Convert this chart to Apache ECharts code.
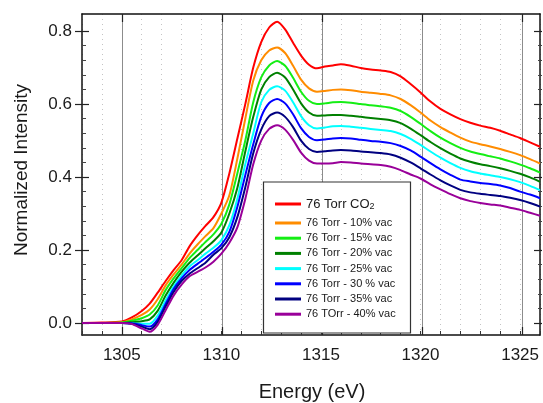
<!DOCTYPE html>
<html><head><meta charset="utf-8">
<script src="https://cdn.jsdelivr.net/npm/echarts@6/dist/echarts.min.js"></script>
<style>html,body{margin:0;padding:0;background:#fff}#c{width:543px;height:403px}</style>
</head><body><div id="c"></div>
<script>
const energy = [1303, 1304, 1305, 1305.5, 1306, 1306.4, 1306.8, 1307.2, 1307.6, 1308, 1308.4, 1308.8, 1309.2, 1309.6, 1310, 1310.4, 1310.8, 1311.2, 1311.6, 1312, 1312.4, 1312.8, 1313.2, 1313.6, 1314, 1314.4, 1314.8, 1315.2, 1315.6, 1316, 1316.5, 1317, 1317.5, 1318, 1318.5, 1319, 1319.5, 1320, 1320.5, 1321, 1321.5, 1322, 1322.5, 1323, 1323.5, 1324, 1324.5, 1325, 1325.5, 1326];

const co2 = [0.000, 0.001, 0.004, 0.015, 0.033, 0.053, 0.083, 0.115, 0.145, 0.172, 0.210, 0.240, 0.266, 0.290, 0.330, 0.410, 0.505, 0.600, 0.700, 0.770, 0.810, 0.826, 0.805, 0.768, 0.733, 0.708, 0.698, 0.703, 0.706, 0.709, 0.705, 0.699, 0.695, 0.692, 0.688, 0.676, 0.655, 0.632, 0.607, 0.587, 0.572, 0.559, 0.549, 0.541, 0.535, 0.527, 0.517, 0.507, 0.495, 0.483];
const vac10 = [0.000, 0.000, 0.002, 0.010, 0.022, 0.037, 0.065, 0.103, 0.133, 0.160, 0.190, 0.215, 0.238, 0.260, 0.300, 0.350, 0.450, 0.560, 0.665, 0.720, 0.747, 0.755, 0.740, 0.705, 0.667, 0.643, 0.634, 0.636, 0.639, 0.640, 0.638, 0.634, 0.631, 0.628, 0.624, 0.614, 0.597, 0.577, 0.555, 0.537, 0.522, 0.508, 0.497, 0.490, 0.484, 0.477, 0.469, 0.460, 0.449, 0.437];
const vac15 = [0.000, 0.000, 0.001, 0.006, 0.013, 0.023, 0.048, 0.090, 0.122, 0.150, 0.178, 0.200, 0.222, 0.243, 0.272, 0.325, 0.410, 0.500, 0.605, 0.673, 0.706, 0.718, 0.705, 0.672, 0.634, 0.609, 0.600, 0.602, 0.605, 0.606, 0.604, 0.600, 0.597, 0.594, 0.590, 0.581, 0.565, 0.546, 0.526, 0.508, 0.493, 0.480, 0.470, 0.463, 0.457, 0.451, 0.443, 0.434, 0.424, 0.412];
const vac20 = [0.000, 0.000, 0.000, 0.002, 0.005, 0.010, 0.033, 0.075, 0.110, 0.140, 0.165, 0.185, 0.205, 0.224, 0.248, 0.300, 0.370, 0.470, 0.565, 0.640, 0.674, 0.686, 0.673, 0.640, 0.602, 0.577, 0.568, 0.569, 0.570, 0.570, 0.568, 0.565, 0.562, 0.559, 0.556, 0.548, 0.533, 0.515, 0.496, 0.479, 0.464, 0.451, 0.442, 0.435, 0.430, 0.424, 0.417, 0.409, 0.399, 0.387];
const vac25 = [0.000, 0.000, 0.000, -0.001, -0.002, -0.002, 0.020, 0.062, 0.100, 0.130, 0.155, 0.172, 0.190, 0.206, 0.227, 0.268, 0.340, 0.435, 0.520, 0.605, 0.639, 0.649, 0.637, 0.605, 0.567, 0.542, 0.533, 0.536, 0.539, 0.540, 0.538, 0.535, 0.532, 0.529, 0.526, 0.518, 0.505, 0.488, 0.470, 0.453, 0.438, 0.425, 0.416, 0.410, 0.405, 0.400, 0.394, 0.386, 0.376, 0.364];
const vac30 = [0.000, 0.000, 0.000, -0.001, -0.006, -0.010, 0.010, 0.052, 0.093, 0.122, 0.145, 0.162, 0.178, 0.195, 0.215, 0.250, 0.318, 0.405, 0.490, 0.565, 0.603, 0.614, 0.602, 0.572, 0.534, 0.510, 0.501, 0.503, 0.506, 0.507, 0.506, 0.502, 0.499, 0.497, 0.493, 0.485, 0.473, 0.456, 0.438, 0.421, 0.406, 0.393, 0.388, 0.384, 0.381, 0.377, 0.370, 0.360, 0.352, 0.342];
const vac35 = [0.000, 0.000, 0.000, -0.002, -0.010, -0.017, 0.003, 0.045, 0.085, 0.115, 0.135, 0.150, 0.165, 0.187, 0.205, 0.235, 0.290, 0.372, 0.465, 0.530, 0.567, 0.577, 0.565, 0.537, 0.500, 0.477, 0.469, 0.471, 0.473, 0.474, 0.473, 0.470, 0.468, 0.466, 0.462, 0.453, 0.440, 0.424, 0.407, 0.391, 0.377, 0.365, 0.358, 0.354, 0.351, 0.348, 0.343, 0.337, 0.329, 0.319];
const vac40 = [0.000, 0.000, 0.000, -0.003, -0.015, -0.024, -0.005, 0.035, 0.075, 0.105, 0.128, 0.140, 0.152, 0.168, 0.190, 0.220, 0.262, 0.340, 0.435, 0.500, 0.532, 0.542, 0.530, 0.502, 0.467, 0.445, 0.437, 0.437, 0.438, 0.441, 0.440, 0.437, 0.435, 0.433, 0.428, 0.419, 0.407, 0.396, 0.380, 0.366, 0.353, 0.342, 0.334, 0.329, 0.325, 0.322, 0.316, 0.310, 0.302, 0.294];

const seriesNames = ['76 Torr CO2', '76 Torr - 10% vac', '76 Torr - 15% vac', '76 Torr - 20% vac', '76 Torr - 25% vac', '76 Torr - 30 % vac', '76 Torr - 35% vac', '76 TOrr - 40% vac'];
const seriesValues = [co2, vac10, vac15, vac20, vac25, vac30, vac35, vac40];
const seriesColors = ['#ff0000', '#ff8c00', '#14ee14', '#008000', '#00ffff', '#0000ff', '#000080', '#990099'];

const FONT = '"Liberation Sans", Arial, sans-serif';
const chart = echarts.init(document.getElementById('c'), null, {renderer: 'canvas'});

const series = seriesNames.map((n, i) => ({
  name: n, type: 'line', xAxisIndex: 0, yAxisIndex: 0,
  data: energy.map((e, j) => [e, seriesValues[i][j]]),
  showSymbol: false, symbol: 'none', smooth: 0.25,
  lineStyle: {color: seriesColors[i], width: 2},
  itemStyle: {color: seriesColors[i]},
  z: 2 + i * 0.01, animation: false
}));

const noAxis = {axisLine: {show: false, onZero: false}, axisTick: {show: false}, axisLabel: {show: false}, splitLine: {show: false}};
const frameLine = {show: true, onZero: false, lineStyle: {color: '#111', width: 1.5}};

chart.setOption({
  animation: false,
  grid: [
    {left: 82, right: 1, top: 14, bottom: 68},
    {left: 122, right: 21, top: 14, bottom: 68},
    {left: 82, right: 1, top: 31, bottom: 80}
  ],
  xAxis: [
    {gridIndex: 0, type: 'value', position: 'bottom', min: 1303, max: 1326, interval: 1,
     axisLine: frameLine,
     axisTick: {show: true, inside: true, length: 4, lineStyle: {color: '#333'}},
     axisLabel: {show: true, margin: 12, fontSize: 17, fontFamily: FONT, color: '#1a1a1a',
       formatter: v => (v % 5 === 0 ? String(v) : '')},
     splitLine: {show: true, lineStyle: {color: '#c4c4c4', type: [1, 4], width: 1}}},
    {gridIndex: 1, type: 'value', position: 'bottom', min: 1305, max: 1325, interval: 5,
     axisLine: {show: false, onZero: false}, axisLabel: {show: false},
     axisTick: {show: true, inside: true, length: 8, lineStyle: {color: '#222', width: 1.2}},
     splitLine: {show: true, lineStyle: {color: '#8c8c8c', width: 1, type: 'solid'}}},
    {gridIndex: 1, type: 'value', position: 'top', min: 1305, max: 1325, interval: 5,
     axisLine: {show: false, onZero: false}, axisLabel: {show: false}, splitLine: {show: false},
     axisTick: {show: true, inside: true, length: 8, lineStyle: {color: '#222', width: 1.2}}},
    {gridIndex: 0, type: 'value', position: 'top', min: 1303, max: 1326, interval: 1,
     axisLine: frameLine,
     axisTick: {show: false}, axisLabel: {show: false}, splitLine: {show: false}},
    Object.assign({gridIndex: 2, type: 'value', min: 0, max: 1, show: false}, noAxis)
  ],
  yAxis: [
    {gridIndex: 0, type: 'value', position: 'left', min: -0.033, max: 0.847,
     axisLine: frameLine,
     axisTick: {show: false}, axisLabel: {show: false}, splitLine: {show: false}},
    Object.assign({gridIndex: 1, type: 'value', min: 0, max: 1, show: false}, noAxis),
    {gridIndex: 2, type: 'value', position: 'left', min: 0, max: 0.8, interval: 0.2,
     axisLine: {show: false, onZero: false}, splitLine: {show: false},
     axisTick: {show: true, inside: false, length: 7, lineStyle: {color: '#222', width: 1.2}},
     axisLabel: {show: true, margin: 10, fontSize: 17, fontFamily: FONT, color: '#1a1a1a',
       formatter: v => v.toFixed(1)}},
    {gridIndex: 2, type: 'value', position: 'left', min: 0, max: 0.8, interval: 0.2,
     axisLine: {show: false, onZero: false}, splitLine: {show: false}, axisLabel: {show: false},
     axisTick: {show: true, inside: true, length: 7, lineStyle: {color: '#222', width: 1.2}},
     minorTick: {show: true, splitNumber: 5, length: 4, lineStyle: {color: '#444'}}},
    {gridIndex: 2, type: 'value', position: 'right', min: 0, max: 0.8, interval: 0.2,
     axisLine: {show: false, onZero: false}, splitLine: {show: false}, axisLabel: {show: false},
     axisTick: {show: true, inside: true, length: 8, lineStyle: {color: '#222', width: 1.2}},
     minorTick: {show: true, splitNumber: 5, length: 4, lineStyle: {color: '#444'}}},
    {gridIndex: 0, type: 'value', position: 'right', min: -0.033, max: 0.847,
     axisLine: frameLine,
     axisTick: {show: false}, axisLabel: {show: false}, splitLine: {show: false}}
  ],
  legend: [
    {data: [seriesNames[0]], orient: 'vertical', left: 275, top: 197, padding: 0,
     icon: 'rect', itemWidth: 26, itemHeight: 3, itemGap: 3, selectedMode: false,
     formatter: n => '76 Torr CO{sub|2}',
     textStyle: {fontSize: 13, lineHeight: 14, fontFamily: FONT, color: '#1a1a1a',
       rich: {sub: {fontSize: 9, lineHeight: 9, verticalAlign: 'bottom', fontFamily: FONT, color: '#1a1a1a'}}}},
    {data: seriesNames.slice(1), orient: 'vertical', left: 275, top: 217, padding: 0,
     icon: 'rect', itemWidth: 26, itemHeight: 3, itemGap: 3.2, selectedMode: false,
     textStyle: {fontSize: 11, lineHeight: 12, fontFamily: FONT, color: '#1a1a1a'}}
  ],
  graphic: [
    {type: 'rect', z: 3, shape: {x: 263.5, y: 182, width: 147, height: 151},
     style: {fill: '#fff', stroke: '#333', lineWidth: 1.2}},
    {type: 'text', x: 312, y: 392, z: 5,
     style: {text: 'Energy (eV)', font: '20px ' + FONT, fill: '#1a1a1a', align: 'center', verticalAlign: 'middle', textAlign: 'center', textVerticalAlign: 'middle'}},
    {type: 'text', x: 22, y: 170, rotation: Math.PI / 2, z: 5,
     style: {text: 'Normalized Intensity', font: '19px ' + FONT, fill: '#1a1a1a', align: 'center', verticalAlign: 'middle', textAlign: 'center', textVerticalAlign: 'middle'}}
  ],
  series: series
});
</script></body></html>
